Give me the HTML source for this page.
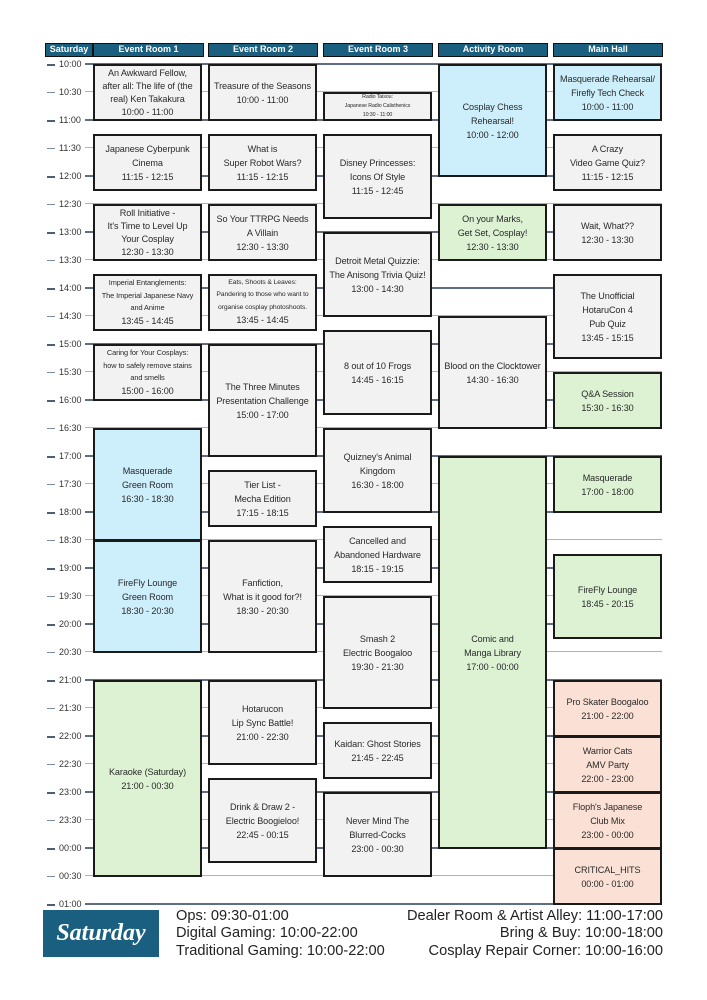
<!DOCTYPE html>
<html><head><meta charset="utf-8"><style>
body{margin:0;width:707px;height:1000px;background:#fff;position:relative;font-family:"Liberation Sans",sans-serif;overflow:hidden}
.h{position:absolute;top:43px;height:14px;background:#1b5f80;border:1.5px solid #111;box-sizing:border-box;color:#fff;font-weight:bold;font-size:9px;line-height:11px;text-align:center}
.g{position:absolute;left:85px;width:577px;height:0;border-top:1.5px solid #a9b4c2}
.g.hr{border-top:2px solid #5d6e84}
.t{position:absolute;left:47px;font-size:9px;color:#333;line-height:10px}
.t b{display:inline-block;width:8px;height:1px;background:#7d8ea4;vertical-align:middle;margin-right:4px}
.t.k b{height:2px;background:#4d5e74}
.e{position:absolute;width:109px;border:2px solid #1a1a1a;box-sizing:border-box;background:#f2f2f2;display:flex;align-items:center;justify-content:center;text-align:center;font-size:9.1px;line-height:14px;color:#2a2a2a;letter-spacing:-0.1px}
.bl{background:#cdeefb}.gr{background:#dcf2d3}.pk{background:#fbe1d5}
.s{font-size:7.4px;line-height:12.5px}
.xs{font-size:5.3px;line-height:9px}
.f{position:absolute;font-size:14.6px;line-height:17.3px;color:#222}
</style></head><body>
<div class="h" style="left:45px;width:48px">Saturday</div>
<div class="h" style="left:93px;width:111px">Event Room 1</div>
<div class="h" style="left:208px;width:110px">Event Room 2</div>
<div class="h" style="left:323px;width:110px">Event Room 3</div>
<div class="h" style="left:438px;width:110px">Activity Room</div>
<div class="h" style="left:553px;width:110px">Main Hall</div>

<div class="g hr" style="top:63px"></div><div class="g" style="top:91px"></div>
<div class="g hr" style="top:119px"></div><div class="g" style="top:147px"></div>
<div class="g hr" style="top:175px"></div><div class="g" style="top:203px"></div>
<div class="g hr" style="top:231px"></div><div class="g" style="top:259px"></div>
<div class="g hr" style="top:287px"></div><div class="g" style="top:315px"></div>
<div class="g hr" style="top:343px"></div><div class="g" style="top:371px"></div>
<div class="g hr" style="top:399px"></div><div class="g" style="top:427px"></div>
<div class="g hr" style="top:455px"></div><div class="g" style="top:483px"></div>
<div class="g hr" style="top:511px"></div><div class="g" style="top:539px"></div>
<div class="g hr" style="top:567px"></div><div class="g" style="top:595px"></div>
<div class="g hr" style="top:623px"></div><div class="g" style="top:651px"></div>
<div class="g hr" style="top:679px"></div><div class="g" style="top:707px"></div>
<div class="g hr" style="top:735px"></div><div class="g" style="top:763px"></div>
<div class="g hr" style="top:791px"></div><div class="g" style="top:819px"></div>
<div class="g hr" style="top:847px"></div><div class="g" style="top:875px"></div>
<div class="g hr" style="top:903px"></div>

<div class="t k" style="top:59px"><b></b>10:00</div><div class="t" style="top:87px"><b></b>10:30</div>
<div class="t k" style="top:115px"><b></b>11:00</div><div class="t" style="top:143px"><b></b>11:30</div>
<div class="t k" style="top:171px"><b></b>12:00</div><div class="t" style="top:199px"><b></b>12:30</div>
<div class="t k" style="top:227px"><b></b>13:00</div><div class="t" style="top:255px"><b></b>13:30</div>
<div class="t k" style="top:283px"><b></b>14:00</div><div class="t" style="top:311px"><b></b>14:30</div>
<div class="t k" style="top:339px"><b></b>15:00</div><div class="t" style="top:367px"><b></b>15:30</div>
<div class="t k" style="top:395px"><b></b>16:00</div><div class="t" style="top:423px"><b></b>16:30</div>
<div class="t k" style="top:451px"><b></b>17:00</div><div class="t" style="top:479px"><b></b>17:30</div>
<div class="t k" style="top:507px"><b></b>18:00</div><div class="t" style="top:535px"><b></b>18:30</div>
<div class="t k" style="top:563px"><b></b>19:00</div><div class="t" style="top:591px"><b></b>19:30</div>
<div class="t k" style="top:619px"><b></b>20:00</div><div class="t" style="top:647px"><b></b>20:30</div>
<div class="t k" style="top:675px"><b></b>21:00</div><div class="t" style="top:703px"><b></b>21:30</div>
<div class="t k" style="top:731px"><b></b>22:00</div><div class="t" style="top:759px"><b></b>22:30</div>
<div class="t k" style="top:787px"><b></b>23:00</div><div class="t" style="top:815px"><b></b>23:30</div>
<div class="t k" style="top:843px"><b></b>00:00</div><div class="t" style="top:871px"><b></b>00:30</div>
<div class="t k" style="top:899px"><b></b>01:00</div>

<!-- ER1 -->
<div class="e" style="left:93px;top:64px;height:57px;line-height:13px">An Awkward Fellow,<br>after all: The life of (the<br>real) Ken Takakura<br>10:00 - 11:00</div>
<div class="e" style="left:93px;top:134px;height:57px">Japanese Cyberpunk<br>Cinema<br>11:15 - 12:15</div>
<div class="e" style="left:93px;top:204px;height:57px;line-height:13px">Roll Initiative -<br>It's Time to Level Up<br>Your Cosplay<br>12:30 - 13:30</div>
<div class="e s" style="left:93px;top:274px;height:57px"><div>Imperial Entanglements:<br>The Imperial Japanese Navy<br>and Anime<br><span style="font-size:9.1px">13:45 - 14:45</span></div></div>
<div class="e s" style="left:93px;top:344px;height:57px"><div>Caring for Your Cosplays:<br>how to safely remove stains<br>and smells<br><span style="font-size:9.1px">15:00 - 16:00</span></div></div>
<div class="e bl" style="left:93px;top:428px;height:113px">Masquerade<br>Green Room<br>16:30 - 18:30</div>
<div class="e bl" style="left:93px;top:540px;height:113px">FireFly Lounge<br>Green Room<br>18:30 - 20:30</div>
<div class="e gr" style="left:93px;top:680px;height:197px">Karaoke (Saturday)<br>21:00 - 00:30</div>
<!-- ER2 -->
<div class="e" style="left:208px;top:64px;height:57px">Treasure of the Seasons<br>10:00 - 11:00</div>
<div class="e" style="left:208px;top:134px;height:57px">What is<br>Super Robot Wars?<br>11:15 - 12:15</div>
<div class="e" style="left:208px;top:204px;height:57px">So Your TTRPG Needs<br>A Villain<br>12:30 - 13:30</div>
<div class="e s" style="left:208px;top:274px;height:57px"><div style="font-size:6.8px">Eats, Shoots &amp; Leaves:<br>Pandering to those who want to<br>organise cosplay photoshoots.<br><span style="font-size:9.1px">13:45 - 14:45</span></div></div>
<div class="e" style="left:208px;top:344px;height:113px">The Three Minutes<br>Presentation Challenge<br>15:00 - 17:00</div>
<div class="e" style="left:208px;top:470px;height:57px">Tier List -<br>Mecha Edition<br>17:15 - 18:15</div>
<div class="e" style="left:208px;top:540px;height:113px">Fanfiction,<br>What is it good for?!<br>18:30 - 20:30</div>
<div class="e" style="left:208px;top:680px;height:85px">Hotarucon<br>Lip Sync Battle!<br>21:00 - 22:30</div>
<div class="e" style="left:208px;top:778px;height:85px">Drink &amp; Draw 2 -<br>Electric Boogieloo!<br>22:45 - 00:15</div>
<!-- ER3 -->
<div class="e xs" style="left:323px;top:92px;height:29px">Radio Taisou:<br>Japanese Radio Calisthenics<br>10:30 - 11:00</div>
<div class="e" style="left:323px;top:134px;height:85px">Disney Princesses:<br>Icons Of Style<br>11:15 - 12:45</div>
<div class="e" style="left:323px;top:232px;height:85px">Detroit Metal Quizzie:<br>The Anisong Trivia Quiz!<br>13:00 - 14:30</div>
<div class="e" style="left:323px;top:330px;height:85px">8 out of 10 Frogs<br>14:45 - 16:15</div>
<div class="e" style="left:323px;top:428px;height:85px">Quizney's Animal<br>Kingdom<br>16:30 - 18:00</div>
<div class="e" style="left:323px;top:526px;height:57px">Cancelled and<br>Abandoned Hardware<br>18:15 - 19:15</div>
<div class="e" style="left:323px;top:596px;height:113px">Smash 2<br>Electric Boogaloo<br>19:30 - 21:30</div>
<div class="e" style="left:323px;top:722px;height:57px">Kaidan: Ghost Stories<br>21:45 - 22:45</div>
<div class="e" style="left:323px;top:792px;height:85px">Never Mind The<br>Blurred-Cocks<br>23:00 - 00:30</div>
<!-- Activity -->
<div class="e bl" style="left:438px;top:64px;height:113px">Cosplay Chess<br>Rehearsal!<br>10:00 - 12:00</div>
<div class="e gr" style="left:438px;top:204px;height:57px">On your Marks,<br>Get Set, Cosplay!<br>12:30 - 13:30</div>
<div class="e" style="left:438px;top:316px;height:113px">Blood on the Clocktower<br>14:30 - 16:30</div>
<div class="e gr" style="left:438px;top:456px;height:393px">Comic and<br>Manga Library<br>17:00 - 00:00</div>
<!-- Main -->
<div class="e bl" style="left:553px;top:64px;height:57px">Masquerade Rehearsal/<br>Firefly Tech Check<br>10:00 - 11:00</div>
<div class="e" style="left:553px;top:134px;height:57px">A Crazy<br>Video Game Quiz?<br>11:15 - 12:15</div>
<div class="e" style="left:553px;top:204px;height:57px">Wait, What??<br>12:30 - 13:30</div>
<div class="e" style="left:553px;top:274px;height:85px">The Unofficial<br>HotaruCon 4<br>Pub Quiz<br>13:45 - 15:15</div>
<div class="e gr" style="left:553px;top:372px;height:57px">Q&amp;A Session<br>15:30 - 16:30</div>
<div class="e gr" style="left:553px;top:456px;height:57px">Masquerade<br>17:00 - 18:00</div>
<div class="e gr" style="left:553px;top:554px;height:85px">FireFly Lounge<br>18:45 - 20:15</div>
<div class="e pk" style="left:553px;top:680px;height:57px">Pro Skater Boogaloo<br>21:00 - 22:00</div>
<div class="e pk" style="left:553px;top:736px;height:57px">Warrior Cats<br>AMV Party<br>22:00 - 23:00</div>
<div class="e pk" style="left:553px;top:792px;height:57px">Floph's Japanese<br>Club Mix<br>23:00 - 00:00</div>
<div class="e pk" style="left:553px;top:848px;height:57px">CRITICAL_HITS<br>00:00 - 01:00</div>

<!-- footer -->
<div style="position:absolute;left:43px;top:910px;width:116px;height:47px;background:#1b5f80;color:#fff;font-family:'Liberation Serif',serif;font-style:italic;font-weight:bold;font-size:24px;line-height:47px;text-align:center">Saturday</div>
<div class="f" style="left:176px;top:908px">Ops: 09:30-01:00<br>Digital Gaming: 10:00-22:00<br>Traditional Gaming: 10:00-22:00</div>
<div class="f" style="right:44px;top:908px;text-align:right">Dealer Room &amp; Artist Alley: 11:00-17:00<br>Bring &amp; Buy: 10:00-18:00<br>Cosplay Repair Corner: 10:00-16:00</div>
</body></html>
